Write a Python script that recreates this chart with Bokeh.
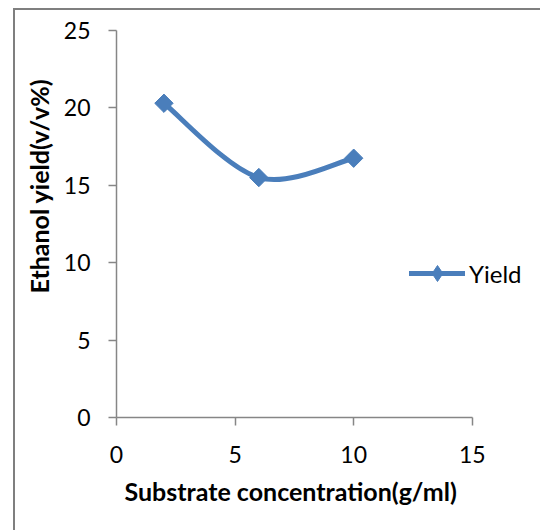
import numpy as np
from bokeh.plotting import figure
from bokeh.models import Range1d, Legend, LegendItem, Title
from bokeh.embed import file_html
from bokeh.resources import INLINE

# ---- data ----
x_conc = [2, 6, 10]
yield_pct = [20.3, 15.5, 16.75]
x_ticks = [0, 5, 10, 15]
y_ticks = [0, 5, 10, 15, 20, 25]
series_name = "Yield"
x_title = "Substrate concentration(g/ml)"
y_title = "Ethanol yield(v/v%)"

SERIES = "#4a7ebb"
AXIS = "#868686"
FONT = "Lato"

W, H = 527, 522
p = figure(width=W, height=H, output_backend="svg", toolbar_location=None,
           x_range=Range1d(0, 17.96), y_range=Range1d(0, 25),
           min_border_left=100, min_border_right=0,
           min_border_top=20, min_border_bottom=115)
p.styles = {"margin-left": "13px", "margin-top": "8px",
            "border-left": "2px solid #7f7f7f", "border-top": "2px solid #7f7f7f"}
p.outline_line_color = None
p.grid.visible = False

# smooth (Catmull-Rom style) bezier through data points, like Excel smoothing
xs = np.array(x_conc, dtype=float)
ys = np.array(yield_pct, dtype=float)
n = len(xs)
qx = np.concatenate([[xs[0]], xs, [xs[-1]]])
qy = np.concatenate([[ys[0]], ys, [ys[-1]]])
cx0 = xs[:-1] + (qx[2:n + 1] - qx[0:n - 1]) / 6.0
cy0 = ys[:-1] + (qy[2:n + 1] - qy[0:n - 1]) / 6.0
cx1 = xs[1:] - (qx[3:n + 2] - qx[1:n]) / 6.0
cy1 = ys[1:] - (qy[3:n + 2] - qy[1:n]) / 6.0

bez = p.bezier(x0=xs[:-1], y0=ys[:-1], x1=xs[1:], y1=ys[1:],
               cx0=cx0, cy0=cy0, cx1=cx1, cy1=cy1,
               line_color=SERIES, line_width=5, line_cap="round", line_join="round")
# diamond glyph used for the legend (hidden under the point markers)
leg_marker = p.scatter(xs, ys, marker="diamond", size=16,
                       fill_color=SERIES, line_color=SERIES)
sc = p.scatter(xs, ys, marker="square", angle=np.pi / 4, size=13,
               fill_color=SERIES, line_color=SERIES)

legend = Legend(items=[LegendItem(label=series_name, renderers=[bez, leg_marker])],
                location=(293, 124), padding=0, margin=0, spacing=0,
                glyph_width=56, glyph_height=40, label_standoff=4,
                border_line_alpha=0, background_fill_alpha=0,
                label_text_font=FONT, label_text_font_size="24px",
                label_text_color="black")
p.add_layout(legend)

for ax in (p.xaxis[0], p.yaxis[0]):
    ax.axis_line_color = AXIS
    ax.axis_line_width = 1.5
    ax.major_tick_line_color = AXIS
    ax.major_tick_line_width = 1.5
    ax.major_tick_out = 8
    ax.major_tick_in = 0
    ax.minor_tick_line_color = None
    ax.major_label_text_font = FONT
    ax.major_label_text_font_size = "23px"
    ax.major_label_text_color = "black"

p.xaxis.ticker = x_ticks
p.yaxis.ticker = y_ticks
p.xaxis.bounds = (0, 15)
p.xaxis.major_label_standoff = 20
p.yaxis.major_label_standoff = 18

p.add_layout(Title(text=x_title, align="left", offset=8, standoff=16,
                   text_font=FONT, text_font_style="bold",
                   text_font_size="25px", text_color="black"), "below")
p.add_layout(Title(text=y_title, align="left", offset=124, standoff=13,
                   text_font=FONT, text_font_style="bold",
                   text_font_size="25px", text_color="black"), "left")

open("out.html", "w").write(file_html(p, INLINE))
